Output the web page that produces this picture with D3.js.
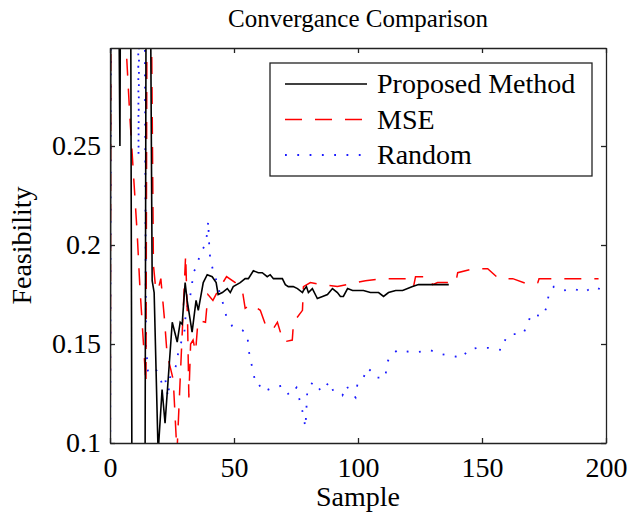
<!DOCTYPE html>
<meta charset="utf-8">
<style>
body { margin: 0; background: #fff; }
text { font-family: 'Liberation Serif', 'Times New Roman', serif; fill: #000; }
</style>
<body>
<svg id="chart"></svg>
<script src="https://d3js.org/d3.v7.min.js"></script>
<script>
// Proposed Method (solid black)
var pmSample = [0, 1, 2, 4, 6, 8, 9, 14, 15, 16, 17, 17.8, 19.4, 21, 22.2, 25.1, 27.1, 28.3, 29.1, 30.3, 31.1,
  33.1, 34.7, 35.6, 37.6, 39.2, 41.2, 42.8, 43.6, 45.3, 47.3, 48.5, 49.7, 52.5, 54.5, 55.8, 57.8, 59.8, 61.4,
  63.4, 64.6, 65.9, 69.5, 70.7, 71.9, 73.9, 75.6, 77.6, 78, 79.2, 80, 81.6, 83.2, 83.6, 85.7, 87.7, 89.7, 91.7,
  92.9, 94.1, 95.8, 97.8, 102.2, 105, 108.3, 110.3, 112.3, 115.2, 118, 122, 124.4, 130, 136.6];
var pmValue = [0, 1, 0.6, 0.25, 1, 0.5, 0, 0, 0.6, 0.4, 0.182, 0.176, 0.095, 0.127, 0.11, 0.161, 0.151, 0.161, 0.16, 0.181, 0.172,
  0.156, 0.172, 0.167, 0.181, 0.185, 0.184, 0.181, 0.175, 0.176, 0.178, 0.176, 0.179, 0.181, 0.183, 0.183, 0.187, 0.186, 0.186,
  0.184, 0.185, 0.183, 0.183, 0.18, 0.179, 0.179, 0.178, 0.176, 0.177, 0.179, 0.176, 0.178, 0.174, 0.173, 0.174, 0.175, 0.178, 0.176,
  0.174, 0.174, 0.178, 0.177, 0.177, 0.176, 0.176, 0.174, 0.176, 0.177, 0.177, 0.179, 0.18, 0.18, 0.18];

// MSE (dashed red)
var mseSample = [0, 1, 6, 6.5, 8, 10, 11, 12, 13, 14.5, 15.5, 16.5, 17.5, 18.5, 19.5, 20.5, 22, 23, 25.5, 27,
  30.5, 31.3, 31.8, 32.5, 33.5, 34.5, 35.5, 38.5, 39.5, 41.5, 44, 47, 50.5, 53.5, 54.5, 57, 60.6, 62.6, 65.5,
  67.5, 69.9, 73.5, 74, 77.6, 78, 80.8, 85.7, 91.7, 99, 103, 110, 116, 120.4, 122.4, 123.2, 128.5, 130.1,
  132.1, 137.4, 139.4, 140.2, 146.3, 148.7, 152.3, 156.8, 162.4, 168.9, 172.5, 173, 180.6, 185.9, 197];
var mseValue = [0, 1, 1, 0.3, 0.265, 0.225, 0.205, 0.18, 0.16, 0.13, 0.6, 0.35, 0.19, 0.177, 0.178, 0.183, 0.162, 0.145, 0.132, 0.095,
  0.195, 0.16, 0.123, 0.15, 0.152, 0.146, 0.162, 0.161, 0.175, 0.172, 0.178, 0.184, 0.181, 0.176, 0.168, 0.17, 0.167, 0.16, 0.157,
  0.161, 0.151, 0.152, 0.161, 0.167, 0.179, 0.181, 0.18, 0.179, 0.181, 0.182, 0.183, 0.183, 0.183, 0.179, 0.184, 0.184, 0.18,
  0.181, 0.181, 0.181, 0.186, 0.188, 0.188, 0.188, 0.183, 0.183, 0.18, 0.181, 0.183, 0.183, 0.183, 0.183];

// Random (dotted blue)
var rndSample = [0, 1, 10, 11.5, 12.5, 13.5, 14.5, 15.3, 18.2, 19.4, 21, 22.2, 23.4, 24.2, 27, 27.5, 30, 30.3, 31,
  32.3, 33, 33.5, 35, 36.4, 38.4, 39.2, 39.6, 40, 40.4, 41.6, 43.2, 44.4, 45.7, 46.9, 49.3, 53.3, 55.4, 55.8,
  56.6, 57.8, 58.6, 59.8, 61.8, 65.9, 69.5, 72.3, 75.2, 76.4, 77.6, 78.8, 79.6, 82, 85.3, 88.5, 90.1, 93.7,
  95.4, 96.2, 99, 99.8, 101.4, 102.2, 103.8, 105.5, 107.1, 111.1, 111.5, 113.1, 116, 120.8, 124.4, 128.9,
  133.3, 137.8, 142.2, 144.2, 147.9, 152.7, 158, 159.6, 161.6, 166.5, 168.5, 169.7, 174.5, 176.2, 177, 179,
  183, 187, 191, 195, 199, 200];
var rndValue = [0, 1, 1, 0.245, 0.5, 0.5, 0.15, 0.136, 0.138, 0.135, 0.13, 0.133, 0.123, 0.133, 0.14, 0.146, 0.156, 0.162, 0.168,
  0.174, 0.179, 0.186, 0.189, 0.196, 0.2, 0.206, 0.212, 0.2, 0.193, 0.187, 0.181, 0.175, 0.17, 0.164, 0.159, 0.157, 0.155, 0.148,
  0.142, 0.136, 0.13, 0.13, 0.126, 0.128, 0.129, 0.124, 0.128, 0.122, 0.116, 0.108, 0.127, 0.131, 0.126, 0.131, 0.126, 0.124,
  0.129, 0.127, 0.123, 0.13, 0.132, 0.133, 0.138, 0.136, 0.133, 0.133, 0.14, 0.144, 0.147, 0.146, 0.146, 0.147,
  0.145, 0.144, 0.143, 0.147, 0.148, 0.148, 0.147, 0.153, 0.155, 0.155, 0.16, 0.165, 0.164, 0.169, 0.176, 0.179,
  0.177, 0.178, 0.176, 0.179, 0.177, 0.177];

var xTicks = [0, 50, 100, 150, 200];
var yTicks = [0.1, 0.15, 0.2, 0.25];
var seriesNames = ["Proposed Method", "MSE", "Random"];

var margin = {top: 48, right: 29, bottom: 72, left: 110},
    width = 635 - margin.left - margin.right,
    height = 515 - margin.top - margin.bottom;

var x = d3.scaleLinear().domain([0, 200]).range([0, width]);
var y = d3.scaleLinear().domain([0.1, 0.2995]).range([height, 0]);

var svg = d3.select("#chart")
    .attr("width", 635)
    .attr("height", 515)
  .append("g")
    .attr("transform", "translate(" + margin.left + "," + margin.top + ")");

svg.append("clipPath").attr("id", "plotclip")
  .append("rect").attr("width", width).attr("height", height);

function pts(s, v) { return s.map(function(d, i) { return [d, v[i]]; }); }

var line = d3.line()
    .x(function(d) { return x(d[0]); })
    .y(function(d) { return y(d[1]); });

var series = [
  {data: pts(rndSample, rndValue), color: "#1a1aff", width: 1.8, dash: "1.8,10.5"},
  {data: pts(mseSample, mseValue), color: "#ff0000", width: 1.5, dash: "17,13"},
  {data: pts(pmSample, pmValue), color: "#000000", width: 1.6, dash: null}
];

var plot = svg.append("g").attr("clip-path", "url(#plotclip)");
series.forEach(function(s) {
  plot.append("path")
    .datum(s.data)
    .attr("fill", "none")
    .attr("stroke", s.color)
    .attr("stroke-width", s.width)
    .attr("stroke-dasharray", s.dash)
    .attr("d", line);
});

// axes, MATLAB style box with inner ticks
var xAxis = d3.axisBottom(x).tickValues(xTicks).tickSize(-5).tickSizeOuter(0).tickPadding(14);
var yAxis = d3.axisLeft(y).tickValues(yTicks).tickSize(-5).tickSizeOuter(0).tickPadding(9)
    .tickFormat(function(d) { return d3.format("")(+d.toFixed(2)); });

svg.append("g").attr("transform", "translate(0," + height + ")").call(xAxis);
svg.append("g").call(yAxis);
svg.append("g").call(d3.axisTop(x).tickValues(xTicks).tickSize(-5).tickSizeOuter(0).tickFormat(""));
svg.append("g").attr("transform", "translate(" + width + ",0)")
  .call(d3.axisRight(y).tickValues(yTicks).tickSize(-5).tickSizeOuter(0).tickFormat(""));

svg.selectAll(".domain, .tick line").attr("stroke", "#222").attr("stroke-width", 1.3);
svg.selectAll(".tick text").style("font-family", "'Liberation Serif', 'Times New Roman', serif").style("font-size", "28px").attr("fill", "#000");

// titles
svg.append("text")
  .attr("x", width / 2).attr("y", -21)
  .attr("text-anchor", "middle")
  .style("font-size", "25px")
  .text("Convergance Comparison");

svg.append("text")
  .attr("x", width / 2).attr("y", height + 63)
  .attr("text-anchor", "middle")
  .style("font-size", "28px")
  .text("Sample");

svg.append("text")
  .attr("transform", "translate(-79," + (height / 2) + ") rotate(-90)")
  .attr("text-anchor", "middle")
  .style("font-size", "28px")
  .text("Feasibility");

// legend
var legend = svg.append("g").attr("transform", "translate(160,15)");
legend.append("rect")
  .attr("width", 322).attr("height", 113)
  .attr("fill", "#fff").attr("stroke", "#222").attr("stroke-width", 1.3);

var legendStyle = [series[2], series[1], series[0]];
seriesNames.forEach(function(name, i) {
  var ly = 21 + i * 35.5;
  legend.append("line")
    .attr("x1", 15).attr("x2", 97)
    .attr("y1", ly).attr("y2", ly)
    .attr("stroke", legendStyle[i].color)
    .attr("stroke-width", legendStyle[i].width)
    .attr("stroke-dasharray", legendStyle[i].dash);
  legend.append("text")
    .attr("x", 107).attr("y", ly + 9)
    .style("font-size", "28px")
    .text(name);
});
</script>
</body>
